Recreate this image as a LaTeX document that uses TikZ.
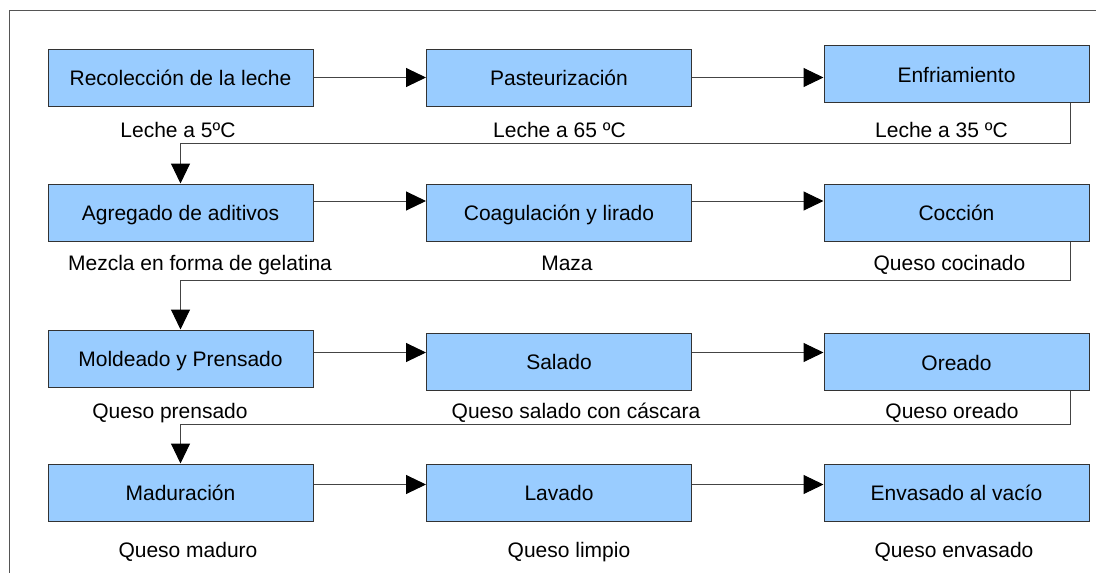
\documentclass[tikz,border=0pt]{standalone}
\usepackage{fontspec}
\setmainfont{Liberation Sans}
\usetikzlibrary{arrows.meta}
\definecolor{boxfill}{HTML}{99CCFF}
\definecolor{boxline}{HTML}{333333}
\definecolor{frameline}{HTML}{555555}
\definecolor{connline}{HTML}{444444}
\begin{document}
\begin{tikzpicture}[x=1pt,y=-1pt,
  stepbox/.style={draw=boxline, fill=boxfill, line width=1pt, minimum width=265pt,
    minimum height=57pt, inner sep=0pt, text height=16pt, text depth=0pt,
    font=\fontsize{21}{25}\selectfont},
  lbl/.style={font=\fontsize{21}{25}\selectfont, inner sep=0pt, anchor=base},
  arr/.style={draw=connline, line width=1pt, -{Triangle[length=20pt,width=19pt,color=black]}}]
\useasboundingbox (0,0) rectangle (1096,573);
\draw[frameline, line width=1pt] (1096,10) -- (9,10) -- (9,573);
% boxes
\node[stepbox] (b11) at (180.5,77.5) {Recolección de la leche};
\node[stepbox] (b12) at (559,77.5) {Pasteurización};
\node[stepbox] (b13) at (956.5,74) {Enfriamiento};
\node[stepbox] (b21) at (180.5,212.5) {Agregado de aditivos};
\node[stepbox] (b22) at (559,212.5) {Coagulación y lirado};
\node[stepbox] (b23) at (956.5,212.5) {Cocción};
\node[stepbox] (b31) at (180.5,358.5) {Moldeado y Prensado};
\node[stepbox] (b32) at (559,361.5) {Salado};
\node[stepbox] (b33) at (956.5,362) {Oreado};
\node[stepbox] (b41) at (180.5,492.5) {Maduración};
\node[stepbox] (b42) at (559,492.5) {Lavado};
\node[stepbox] (b43) at (956.5,492.5) {Envasado al vacío};
% labels
\node[lbl] (l11) at (178,137) {Leche a 5ºC};
\node[lbl] (l12) at (559.5,137) {Leche a 65 ºC};
\node[lbl] (l13) at (941.5,137) {Leche a 35 ºC};
\node[lbl] (l21) at (200,270) {Mezcla en forma de gelatina};
\node[lbl] (l22) at (567,270) {Maza};
\node[lbl] (l23) at (949.5,270) {Queso cocinado};
\node[lbl] (l31) at (170,418) {Queso prensado};
\node[lbl] (l32) at (576,418) {Queso salado con cáscara};
\node[lbl] (l33) at (952,418) {Queso oreado};
\node[lbl] (l41) at (188,557) {Queso maduro};
\node[lbl] (l42) at (569,557) {Queso limpio};
\node[lbl] (l43) at (954,557) {Queso envasado};
% horizontal arrows
\coordinate (h1) at (0,77.5);
\coordinate (h2) at (0,201);
\coordinate (h3) at (0,352.5);
\coordinate (h4) at (0,484.5);
\draw[arr] (b11.east |- h1) -- (b12.west |- h1);
\draw[arr] (b12.east |- h1) -- (b13.west |- h1);
\draw[arr] (b21.east |- h2) -- (b22.west |- h2);
\draw[arr] (b22.east |- h2) -- (b23.west |- h2);
\draw[arr] (b31.east |- h3) -- (b32.west |- h3);
\draw[arr] (b32.east |- h3) -- (b33.west |- h3);
\draw[arr] (b41.east |- h4) -- (b42.west |- h4);
\draw[arr] (b42.east |- h4) -- (b43.west |- h4);
% return connectors
\coordinate (k1) at (1070,143.5);
\coordinate (k2) at (1070,280);
\coordinate (k3) at (1070,424.5);
\draw[arr] (b13.south -| k1) -- (k1) -- (k1 -| b21.north) -- (b21.north);
\draw[arr] (b23.south -| k2) -- (k2) -- (k2 -| b31.north) -- (b31.north);
\draw[arr] (b33.south -| k3) -- (k3) -- (k3 -| b41.north) -- (b41.north);
\end{tikzpicture}
\end{document}
